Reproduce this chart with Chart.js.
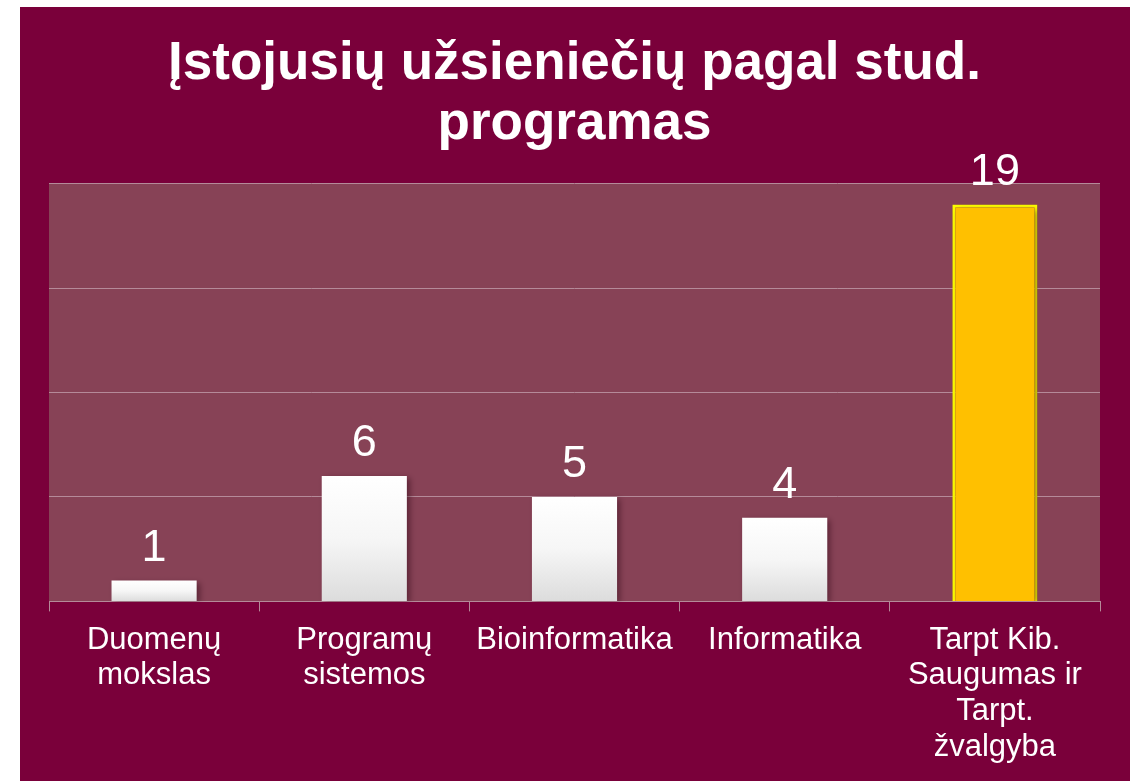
<!DOCTYPE html>
<html>
<head>
<meta charset="utf-8">
<script src="https://cdn.jsdelivr.net/npm/chart.js@4"></script>
<style>
  html, body { margin: 0; padding: 0; background: #ffffff; }
  #wrap { position: absolute; left: 20px; top: 7px; width: 1110px; height: 774px; background: #7a003a; }
</style>
</head>
<body>
<div id="wrap"><canvas id="chartCanvas" width="1110" height="774"></canvas></div>
<script>
const titleLines = ['Įstojusių užsieniečių pagal stud.', 'programas'];
const categories = [
    ['Duomenų', 'mokslas'],
    ['Programų', 'sistemos'],
    ['Bioinformatika'],
    ['Informatika'],
    ['Tarpt Kib.', 'Saugumas ir', 'Tarpt.', 'žvalgyba']
];
const values = [1, 6, 5, 4, 19];
const yTicks = { min: 0, max: 20, step: 5 };

const FONT = '"Liberation Sans", Arial, sans-serif';

function barFill(context) {
    const chart = context.chart;
    if (!chart.chartArea) return '#ffffff';
    if (context.dataIndex === values.length - 1) return '#ffc000';
    const y = chart.scales.y;
    const top = y.getPixelForValue(values[context.dataIndex]);
    const bottom = y.getPixelForValue(0);
    const g = chart.ctx.createLinearGradient(0, top, 0, bottom);
    g.addColorStop(0, '#ffffff');
    g.addColorStop(0.5, '#f6f6f6');
    g.addColorStop(1, '#dcdcdc');
    return g;
}

const plotBackground = {
    id: 'plotBackground',
    beforeDraw(chart) {
        const { ctx, chartArea } = chart;
        ctx.save();
        ctx.fillStyle = '#874256';
        ctx.fillRect(chartArea.left, chartArea.top, chartArea.right - chartArea.left, chartArea.bottom - chartArea.top);
        ctx.restore();
    }
};

const barShadow = {
    id: 'barShadow',
    beforeDatasetsDraw(chart) {
        const ctx = chart.ctx;
        ctx.save();
        ctx.shadowColor = 'rgba(40, 0, 15, 0.45)';
        ctx.shadowBlur = 6;
        ctx.shadowOffsetX = 3;
        ctx.shadowOffsetY = 2;
    },
    afterDatasetsDraw(chart) {
        chart.ctx.restore();
    }
};

const valueLabels = {
    id: 'valueLabels',
    afterDraw(chart) {
        const ctx = chart.ctx;
        const meta = chart.getDatasetMeta(0);
        ctx.save();
        ctx.fillStyle = '#ffffff';
        ctx.font = '45px ' + FONT;
        ctx.textAlign = 'center';
        ctx.textBaseline = 'alphabetic';
        meta.data.forEach((bar, i) => {
            ctx.fillText(String(values[i]), bar.x, bar.y - 20);
        });
        ctx.restore();
    }
};

const ctx = document.getElementById('chartCanvas').getContext('2d');
new Chart(ctx, {
    type: 'bar',
    data: {
        labels: categories,
        datasets: [{
            data: values,
            backgroundColor: barFill,
            borderColor: values.map((v, i) => i === values.length - 1 ? '#ffff00' : 'rgba(0,0,0,0)'),
            borderWidth: values.map((v, i) => i === values.length - 1 ? 3 : 0),
            borderSkipped: 'bottom',
            barPercentage: 0.405,
            categoryPercentage: 1
        }]
    },
    options: {
        responsive: false,
        animation: false,
        layout: { padding: { left: 29, right: 30, top: 0, bottom: 5 } },
        plugins: {
            legend: { display: false },
            tooltip: { enabled: false },
            title: {
                display: true,
                text: titleLines,
                color: '#ffffff',
                font: { family: FONT, size: 53, weight: 'bold', lineHeight: 1.12 },
                padding: { top: 28, bottom: 30 }
            }
        },
        scales: {
            x: {
                grid: {
                    drawOnChartArea: false,
                    color: '#b58a99',
                    tickLength: 10
                },
                border: { color: '#b58a99', width: 1 },
                ticks: {
                    color: '#ffffff',
                    font: { family: FONT, size: 31, lineHeight: 1.15 },
                    padding: 11,
                    maxRotation: 0,
                    autoSkip: false
                }
            },
            y: {
                min: yTicks.min,
                max: yTicks.max,
                ticks: { display: false, stepSize: yTicks.step },
                grid: { color: '#b58a99', drawTicks: false },
                border: { display: false }
            }
        }
    },
    plugins: [plotBackground, barShadow, valueLabels]
});
</script>
</body>
</html>
